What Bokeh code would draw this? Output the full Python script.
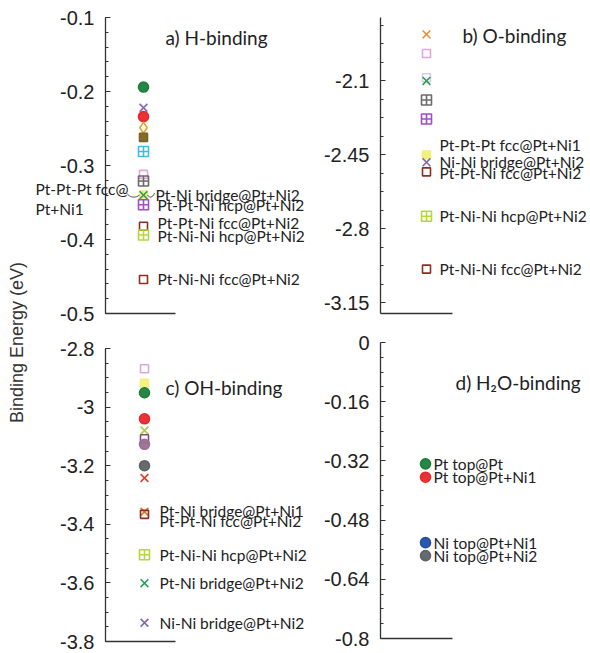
import math
import numpy as np
from bokeh.plotting import figure
from bokeh.models import (Range1d, FixedTicker, CustomJSTickFormatter,
                          ColumnDataSource, LabelSet, Label)
from bokeh.layouts import row, column
from bokeh.embed import file_html
from bokeh.resources import INLINE
from bokeh.core.properties import value

# ---------------- data ----------------
y_title = "Binding Energy (eV)"

# a) H-binding
a_title = "a) H-binding"
a_values = [-0.194, -0.222, -0.234, -0.249, -0.262, -0.281, -0.312, -0.321,
            -0.340, -0.340, -0.353, -0.382, -0.394, -0.454]
a_markers = ["circle", "x", "circle", "diamond", "square", "square_cross", "square",
             "square_cross", "square", "x", "square_cross", "square", "square_cross", "square"]
a_colors = ["#1b7f3b", "#7f68b5", "#e8282b", "#e6a52a", "#7a6421", "#3bbde8", "#e2a6d8",
            "#6b6b6b", "#f2ee7a", "#2f9a5e", "#9d4fc9", "#8e2e20", "#b7d53c", "#8e2e20"]
a_filled = [1, 0, 1, 0, 1, 0, 0, 0, 1, 0, 0, 0, 0, 0]
a_labels = ["", "", "", "", "", "", "", "", "Pt-Pt-Pt fcc@\nPt+Ni1",
            "Pt-Ni bridge@Pt+Ni2", "Pt-Pt-Ni hcp@Pt+Ni2", "Pt-Pt-Ni fcc@Pt+Ni2",
            "Pt-Ni-Ni hcp@Pt+Ni2", "Pt-Ni-Ni fcc@Pt+Ni2"]
a_ticks = [-0.5, -0.4, -0.3, -0.2, -0.1]
a_range = (-0.5, -0.1)

# b) O-binding
b_title = "b) O-binding"
b_values = [-1.88, -1.97, -2.085, -2.10, -2.19, -2.28, -2.45, -2.485, -2.53, -2.74, -2.99]
b_markers = ["x", "square", "square", "x", "square_cross", "square_cross", "square", "x",
             "square", "square_cross", "square"]
b_colors = ["#f08a2c", "#e2a6d8", "#d9c9ea", "#2f9a5e", "#6b6b6b", "#9d4fc9", "#f2ee7a",
            "#7f68b5", "#8e2e20", "#b7d53c", "#8e2e20"]
b_filled = [0, 0, 0, 0, 0, 0, 1, 0, 0, 0, 0]
b_labels = ["", "", "", "", "", "", "Pt-Pt-Pt fcc@Pt+Ni1", "Ni-Ni bridge@Pt+Ni2",
            "Pt-Pt-Ni fcc@Pt+Ni2", "Pt-Ni-Ni hcp@Pt+Ni2", "Pt-Ni-Ni fcc@Pt+Ni2"]
b_ticks = [-3.15, -2.8, -2.45, -2.1]
b_range = (-3.2, -1.8)

# c) OH-binding
c_title = "c) OH-binding"
c_values = [-2.869, -2.919, -2.951, -3.04, -3.08, -3.108, -3.127, -3.20, -3.242,
            -3.357, -3.366, -3.504, -3.601, -3.736]
c_markers = ["square", "square", "circle", "circle", "x", "square", "circle", "circle", "x",
             "x", "square", "square_cross", "x", "x"]
c_colors = ["#d9a8de", "#f4f07c", "#1b7f3b", "#e8282b", "#a6cf45", "#8b4a78", "#9b6f95",
            "#5f6266", "#d9402c", "#e8742a", "#8e2e20", "#b7d53c", "#2f9a5e", "#7f68b5"]
c_filled = [0, 1, 1, 1, 0, 0, 1, 1, 0, 0, 0, 0, 0, 0]
c_labels = ["", "", "", "", "", "", "", "", "", "Pt-Ni bridge@Pt+Ni1", "Pt-Pt-Ni fcc@Pt+Ni2",
            "Pt-Ni-Ni hcp@Pt+Ni2", "Pt-Ni bridge@Pt+Ni2", "Ni-Ni bridge@Pt+Ni2"]
c_ticks = [-3.8, -3.6, -3.4, -3.2, -3.0, -2.8]
c_range = (-3.8, -2.8)

# d) H2O-binding
d_title = "d) H\u2082O-binding"
d_values = [-0.328, -0.364, -0.541, -0.576]
d_markers = ["circle", "circle", "circle", "circle"]
d_colors = ["#1b7f3b", "#e8282b", "#1f4fa8", "#5f6266"]
d_filled = [1, 1, 1, 1]
d_labels = ["Pt top@Pt", "Pt top@Pt+Ni1", "Ni top@Pt+Ni1", "Ni top@Pt+Ni2"]
d_ticks = [-0.8, -0.64, -0.48, -0.32, -0.16, 0.0]
d_range = (-0.8, 0.0)

# ---------------- style / layout ----------------
LABEL_FONT = "Lato"
TICK_FONT = "Liberation Sans"
TXT = "#222222"
AX = "#333333"
LABEL_SIZE = "15.5px"
AXIS_PX = 70  # distance of the y axis line from the figure's left edge

# label offsets in screen px (layout only)
a_dx = [0] * 8 + [-108, 12, 14, 14, 14, 14]
a_dy = [0] * 8 + [-4, 0, 0, 3, -1, 0]
b_dx = [13] * 11
b_dy = [0] * 6 + [10, 0, -1, 0, 0]
c_dx = [15] * 14
c_dy = [0] * 9 + [1, -7, 0, 0, 0]
d_dx = [8] * 4
d_dy = [0] * 4

SIZES = {"circle": 10, "x": 11, "square": 8, "square_cross": 10, "diamond": 11}


def minor_list(ticks, n):
    step = (ticks[1] - ticks[0]) / n
    vals = np.arange(ticks[0], ticks[-1] + 2 * n * step, step)
    return [round(float(v), 5) for v in vals]


def panel(width, height, top_px, bot_px, yr, ticks, nminor,
          mx, stub, title, tx, ty, vals, marks, cols, filled, labels, dx, dy):
    # x data units are screen pixels measured from the marker column;
    # the y range is padded so the axis spans top_px..bot_px of the figure
    left = AXIS_PX + mx
    y0, y1 = yr
    dpp = (y1 - y0) / (bot_px - top_px)
    p = figure(width=width, height=height,
               x_range=Range1d(-left, width - left),
               y_range=Range1d(y0 - (height - bot_px) * dpp, y1 + top_px * dpp),
               output_backend="svg", toolbar_location=None, min_border=0)
    p.grid.visible = False
    p.outline_line_color = None
    yax = p.yaxis[0]
    yax.fixed_location = -mx
    yax.bounds = (y0, y1)
    yax.ticker = FixedTicker(ticks=ticks, minor_ticks=[t for t in minor_list(ticks, nminor)
                                                       if y0 <= t <= y1])
    yax.formatter = CustomJSTickFormatter(code="return String(Math.round(tick*100)/100);")
    yax.major_tick_in = 5
    yax.major_tick_out = 0
    yax.minor_tick_in = 3
    yax.minor_tick_out = 0
    yax.axis_line_color = AX
    yax.axis_line_width = 1.3
    yax.major_tick_line_color = AX
    yax.minor_tick_line_color = AX
    yax.major_label_text_font = TICK_FONT
    yax.major_label_text_font_size = "20px"
    yax.major_label_text_color = TXT
    yax.major_label_standoff = 11
    xax = p.xaxis[0]
    xax.fixed_location = y0
    xax.bounds = (-mx, -mx + stub)
    xax.ticker = FixedTicker(ticks=[])
    xax.major_tick_line_color = None
    xax.minor_tick_line_color = None
    xax.major_label_standoff = 0
    xax.axis_line_color = AX
    xax.axis_line_width = 1.3

    src = ColumnDataSource(dict(
        x=[0] * len(vals), y=vals, marker=marks, color=cols,
        fa=[0.95 if f else 0.0 for f in filled],
        size=[SIZES[m] for m in marks]))
    p.scatter("x", "y", source=src, marker="marker", size="size",
              line_color="color", fill_color="color", fill_alpha="fa", line_width=1.6)

    right = [i for i, t in enumerate(labels) if t and dx[i] >= 0]
    lsrc = ColumnDataSource(dict(
        x=[0] * len(right), y=[vals[i] for i in right], text=[labels[i] for i in right],
        dx=[dx[i] for i in right], dy=[dy[i] for i in right]))
    p.add_layout(LabelSet(x="x", y="y", text="text", source=lsrc,
                          x_offset="dx", y_offset="dy",
                          text_font=value(LABEL_FONT), text_font_size=LABEL_SIZE,
                          text_color=TXT, text_baseline="middle", text_align="left"))
    for i, t in enumerate(labels):
        if t and dx[i] < 0:
            p.add_layout(Label(x=0, y=vals[i], text=t, x_offset=dx[i], y_offset=dy[i],
                               text_font=LABEL_FONT, text_font_size=LABEL_SIZE,
                               text_color=TXT, text_baseline="middle", text_align="left",
                               text_line_height=1.1))
    p.add_layout(Label(x=tx, y=ty, x_units="screen", y_units="screen", text=title,
                       text_font=LABEL_FONT, text_font_size="19px",
                       text_color=TXT, text_baseline="middle", text_align="left"))
    return p


# row 1: figures 0..326
pa = panel(275, 326, 17, 313, a_range, a_ticks, 5, 38, 70,
           a_title, 130, 289, a_values, a_markers, a_colors, a_filled, a_labels, a_dx, a_dy)
pb = panel(280, 326, 17, 313, b_range, b_ticks, 4, 46, 72,
           b_title, 152, 291, b_values, b_markers, b_colors, b_filled, b_labels, b_dx, b_dy)
# row 2: figures 326..653
pc = panel(275, 327, 22, 315, c_range, c_ticks, 4, 39, 70,
           c_title, 130, 266, c_values, c_markers, c_colors, c_filled, c_labels, c_dx, c_dy)
pd = panel(280, 327, 16, 312, d_range, d_ticks, 4, 45, 72,
           d_title, 145, 271, d_values, d_markers, d_colors, d_filled, d_labels, d_dx, d_dy)

# leader curves for the shared H-binding site label
i_lead = 9
v = a_values[i_lead]
pxy = 0.4 / 296.0
pa.bezier(x0=[-17, 4], y0=[v + 2 * pxy, v], x1=[-4, 11], y1=[v, v + 2 * pxy],
          cx0=[-13, 6], cy0=[v - 3 * pxy, v - 3 * pxy],
          cx1=[-8, 9], cy1=[v - 3 * pxy, v - 3 * pxy],
          line_color="#555555", line_width=1)

# y-axis title column
py = figure(width=35, height=653, x_range=Range1d(0, 1), y_range=Range1d(0, 1),
            x_axis_location=None, y_axis_location=None,
            output_backend="svg", toolbar_location=None, min_border=0)
py.grid.visible = False
py.outline_line_color = None
py.add_layout(Label(x=16, y=311, x_units="screen", y_units="screen", text=y_title,
                    angle=math.pi / 2, text_font=TICK_FONT, text_font_size="18px",
                    text_color="#333333", text_align="center", text_baseline="middle"))

layout = row(py, column(row(pa, pb), row(pc, pd)))
open("out.html", "w").write(file_html(layout, INLINE))
